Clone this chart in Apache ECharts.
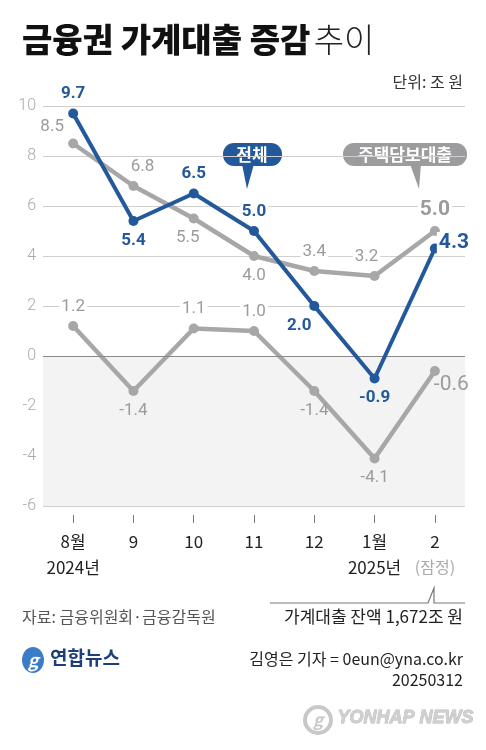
<!DOCTYPE html>
<html><head><meta charset="utf-8">
<script src="https://cdn.jsdelivr.net/npm/echarts@6/dist/echarts.min.js"></script>
<style>html,body{margin:0;padding:0;background:#fff}#c{width:486px;height:750px}</style>
</head><body><div id="c"></div>
<script>
const categories = ['8월\n2024년', '9', '10', '11', '12', '1월\n2025년', '2'];
const totalLoans = [9.7, 5.4, 6.5, 5.0, 2.0, -0.9, 4.3];
const mortgageLoans = [8.5, 6.8, 5.5, 4.0, 3.4, 3.2, 5.0];
const otherLoans = [1.2, -1.4, 1.1, 1.0, -1.4, -4.1, -0.6];
const yTicks = {min: -6, max: 10, interval: 2};

const FONT = '"Noto Sans CJK KR", "Noto Sans", sans-serif';
const NUMFONT = 'Roboto, "Noto Sans CJK KR", sans-serif';
const BLUE = '#23599b';
const GREY = '#a7a7a9';
const GLABEL = '#9b9b9b';

// label placements (style only): [position, offset]
const totalPos = [['top',[0,0]],['bottom',[0,0]],['top',[0,0]],['top',[0,0]],['bottom',[-15,0]],['bottom',[0,0]],['right',[-9,-6]]];
const mortPos = [['top',[-21,3]],['top',[9,0]],['bottom',[-6,0]],['bottom',[0,0]],['top',[0,0]],['top',[-8,0]],['top',[0,0]]];
const otherPos = [['top',[0,0]],['bottom',[0,0]],['top',[0,0]],['top',[0,0]],['bottom',[-16,0]],['bottom',[-3,0]],['bottom',[0,0]]];

function build(values, pos, color, boldLast) {
  return values.map((v, i) => {
    const last = i === values.length - 1;
    return {
      value: v,
      label: {
        position: pos[i][0], offset: pos[i][1], distance: 6,
        fontSize: last ? 21 : 17,
        fontWeight: color === BLUE || (last && boldLast) ? 'bold' : 'normal',
        backgroundColor: v < 0 ? 'transparent' : '#fff',
        padding: [0, 2]
      }
    };
  });
}

const chart = echarts.init(document.getElementById('c'));
const commonLabel = { show: true, fontFamily: NUMFONT, formatter: p => p.value.toFixed(1) };

chart.setOption({
  animation: false,
  backgroundColor: '#fff',
  grid: { left: 43, right: 21, top: 106, bottom: 244 },
  xAxis: {
    type: 'category', data: categories, boundaryGap: true, offset: 9,
    axisLine: { show: true, onZero: false, lineStyle: { color: 'rgba(0,0,0,0)' } },
    axisTick: { show: true, interval: 0, alignWithLabel: true, length: 8, lineStyle: { color: '#777', width: 1 } },
    axisLabel: { interval: 0, color: '#222', fontSize: 17, fontFamily: FONT, margin: 14, lineHeight: 26 }
  },
  yAxis: {
    type: 'value', min: yTicks.min, max: yTicks.max, interval: yTicks.interval,
    axisLine: { show: false }, axisTick: { show: false },
    axisLabel: { color: '#aaa', fontSize: 16, fontFamily: NUMFONT, fontWeight: 300, margin: 7 },
    splitLine: { lineStyle: { color: '#cfcfcf', width: 1 } }
  },
  series: [
    {
      name: '기타대출', type: 'line', data: build(otherLoans, otherPos, GREY, false), z: 3,
      symbol: 'circle', symbolSize: 10,
      lineStyle: { color: GREY, width: 4.5 }, itemStyle: { color: GREY },
      label: Object.assign({ color: GLABEL }, commonLabel),
      labelLayout: function (p) {
        if (p.dataIndex !== otherLoans.length - 1) return {};
        return { x: p.rect.x + p.rect.width / 2 - 3, y: p.rect.y + p.rect.height + 9, align: 'left', verticalAlign: 'middle' };
      },
      markArea: { silent: true, itemStyle: { color: '#f3f3f3' }, data: [[{ yAxis: 0 }, { yAxis: -6 }]] },
      markLine: { silent: true, symbol: 'none', label: { show: false }, lineStyle: { color: '#8a8a8a', type: 'solid', width: 1.2 }, data: [{ yAxis: 0 }] }
    },
    {
      name: '주택담보대출', type: 'line', data: build(mortgageLoans, mortPos, GREY, true), z: 4,
      symbol: 'circle', symbolSize: 10,
      lineStyle: { color: GREY, width: 4.5 }, itemStyle: { color: GREY },
      label: Object.assign({ color: GLABEL }, commonLabel)
    },
    {
      name: '전체', type: 'line', data: build(totalLoans, totalPos, BLUE, true), z: 5,
      symbol: 'circle', symbolSize: 10,
      lineStyle: { color: BLUE, width: 4 }, itemStyle: { color: BLUE },
      label: Object.assign({ color: BLUE }, commonLabel)
    }
  ],
  graphic: [
    { type: 'text', left: 22, top: 23, style: { rich: {
        b: { fontSize: 33, fontWeight: 900, fill: '#111', fontFamily: FONT },
        l: { fontSize: 33, fontWeight: 300, fill: '#222', fontFamily: FONT } },
        text: '{b|금융권 가계대출 증감} {l|추이}' } },
    { type: 'text', right: 23, top: 74, style: { text: '단위: 조 원', fontSize: 16, fill: '#333', fontFamily: FONT } },
    { type: 'group', children: [
      { type: 'rect', shape: { x: 223, y: 143, width: 59, height: 23, r: 11 }, style: { fill: BLUE } },
      { type: 'polygon', shape: { points: [[242, 164], [254, 164], [247, 189]] }, style: { fill: BLUE } },
      { type: 'text', x: 252, y: 155, style: { text: '전체', fill: '#fff', fontSize: 17, fontWeight: 'bold', fontFamily: FONT, align: 'center', verticalAlign: 'middle' } }
    ]},
    { type: 'group', children: [
      { type: 'rect', shape: { x: 343, y: 143, width: 124, height: 23, r: 11 }, style: { fill: '#9c9c9e' } },
      { type: 'polygon', shape: { points: [[410, 164], [421, 164], [419, 189]] }, style: { fill: '#9c9c9e' } },
      { type: 'text', x: 405, y: 155, style: { text: '주택담보대출', fill: '#fff', fontSize: 17, fontWeight: 'bold', fontFamily: FONT, align: 'center', verticalAlign: 'middle' } }
    ]},
    { type: 'group', children: [
      { type: 'polygon', shape: { points: [[162, 418], [164, 437], [178, 437]] }, style: { fill: '#9c9c9e' } },
      { type: 'rect', shape: { x: 73, y: 435, width: 190, height: 30, r: 15 }, style: { fill: '#9c9c9e' } },
      { type: 'text', x: 168, y: 450, style: { align: 'center', verticalAlign: 'middle', rich: {
          b: { fontSize: 17, fontWeight: 'bold', fill: '#fff', fontFamily: FONT },
          n: { fontSize: 17, fontWeight: 'normal', fill: '#fff', fontFamily: FONT } },
          text: '{b|기타대출}{n|(신용대출 등)}' } }
    ]},
    { type: 'text', x: 435, y: 567, style: { text: '(잠정)', fill: '#aaa', fontSize: 16, fontFamily: FONT, align: 'center', verticalAlign: 'middle' } },
    { type: 'polyline', shape: { points: [[270, 603], [428, 603], [434, 588], [434, 603], [465, 603]] }, style: { stroke: '#777', lineWidth: 1.2, fill: null } },
    { type: 'text', left: 22, top: 609, style: { text: '자료: 금융위원회·금융감독원', fill: '#555', fontSize: 16, fontFamily: FONT } },
    { type: 'text', right: 23, top: 608, style: { text: '가계대출 잔액 1,672조 원', fill: '#222', fontSize: 17, fontFamily: FONT } },
    { type: 'ellipse', shape: { cx: 33, cy: 660, rx: 11, ry: 13 }, style: { fill: '#3b7cc6' } },
    { type: 'text', x: 33, y: 660, style: { text: 'g', fill: '#fff', fontSize: 18, fontStyle: 'italic', fontWeight: 'bold', fontFamily: FONT, align: 'center', verticalAlign: 'middle' } },
    { type: 'text', left: 50, top: 648, style: { text: '연합뉴스', fill: '#1c3f7a', fontSize: 19, fontWeight: 'bold', fontFamily: FONT } },
    { type: 'text', right: 23, top: 651, style: { text: '김영은 기자 = 0eun@yna.co.kr', fill: '#222', fontSize: 16, fontFamily: FONT } },
    { type: 'text', right: 23, top: 672, style: { text: '20250312', fill: '#222', fontSize: 16, fontFamily: FONT } },
    { type: 'circle', shape: { cx: 318, cy: 720, r: 13 }, style: { fill: 'none', stroke: '#c8c8c8', lineWidth: 4 } },
    { type: 'text', x: 318, y: 720, style: { text: 'g', fill: '#c8c8c8', fontSize: 17, fontStyle: 'italic', fontWeight: 'bold', fontFamily: FONT, align: 'center', verticalAlign: 'middle' } },
    { type: 'text', left: 337, top: 709, style: { text: 'YONHAP NEWS', fill: '#d0d0d0', stroke: '#b8b8b8', lineWidth: 0.8, fontSize: 18, fontStyle: 'italic', fontWeight: 'bold', fontFamily: 'Liberation Sans, sans-serif' } }
  ]
});
</script>
</body></html>
